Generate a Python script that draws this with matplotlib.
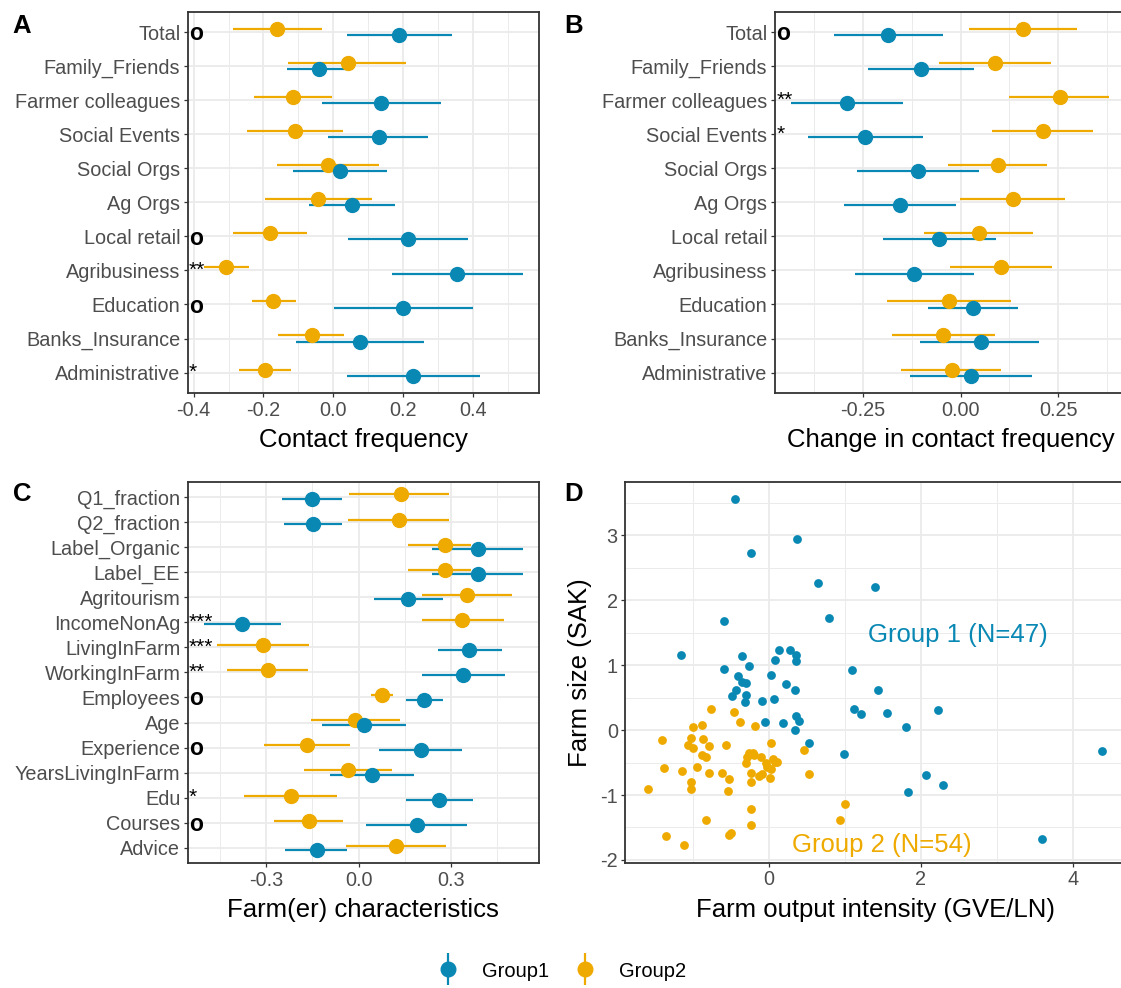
import numpy as np
import matplotlib
matplotlib.use("Agg")
import matplotlib.pyplot as plt
from matplotlib.lines import Line2D
from matplotlib.legend_handler import HandlerTuple

plt.rcParams['font.family'] = ['Liberation Sans', 'DejaVu Sans']
plt.rcParams['axes.unicode_minus'] = False

blue = '#0A88B4'
yellow = '#EFAA00'

# ---- panel A: contact frequency
a_cats = ['Total', 'Family_Friends', 'Farmer colleagues', 'Social Events', 'Social Orgs',
          'Ag Orgs', 'Local retail', 'Agribusiness', 'Education', 'Banks_Insurance', 'Administrative']
a_g1 = [0.189, -0.041, 0.138, 0.130, 0.020, 0.054, 0.213, 0.355, 0.201, 0.076, 0.229]
a_g1_lo = [0.039, -0.132, -0.031, -0.014, -0.115, -0.069, 0.041, 0.168, 0.003, -0.108, 0.039]
a_g1_hi = [0.339, 0.044, 0.309, 0.272, 0.155, 0.177, 0.385, 0.542, 0.400, 0.259, 0.420]
a_g2 = [-0.161, 0.041, -0.116, -0.109, -0.014, -0.043, -0.181, -0.307, -0.173, -0.061, -0.196]
a_g2_lo = [-0.287, -0.129, -0.227, -0.246, -0.160, -0.196, -0.287, -0.370, -0.233, -0.157, -0.269]
a_g2_hi = [-0.031, 0.207, -0.005, 0.027, 0.130, 0.110, -0.076, -0.240, -0.108, 0.032, -0.122]
a_sig = ['o', '', '', '', '', '', 'o', '**', 'o', '', '*']

# ---- panel B: change in contact frequency
b_g1 = [-0.185, -0.101, -0.291, -0.245, -0.110, -0.155, -0.055, -0.119, 0.032, 0.051, 0.027]
b_g1_lo = [-0.324, -0.237, -0.434, -0.391, -0.267, -0.300, -0.198, -0.271, -0.083, -0.103, -0.130]
b_g1_hi = [-0.046, 0.034, -0.149, -0.097, 0.046, -0.011, 0.090, 0.033, 0.147, 0.200, 0.182]
b_g2 = [0.160, 0.087, 0.254, 0.210, 0.096, 0.134, 0.047, 0.104, -0.029, -0.044, -0.023]
b_g2_lo = [0.021, -0.055, 0.125, 0.081, -0.032, -0.002, -0.093, -0.027, -0.188, -0.175, -0.153]
b_g2_hi = [0.299, 0.231, 0.381, 0.340, 0.222, 0.268, 0.185, 0.233, 0.129, 0.089, 0.103]
b_sig = ['o', '', '**', '*', '', '', '', '', '', '', '']

# ---- panel C: farm(er) characteristics
c_cats = ['Q1_fraction', 'Q2_fraction', 'Label_Organic', 'Label_EE', 'Agritourism', 'IncomeNonAg',
          'LivingInFarm', 'WorkingInFarm', 'Employees', 'Age', 'Experience', 'YearsLivingInFarm',
          'Edu', 'Courses', 'Advice']
c_g1 = [-0.150, -0.149, 0.388, 0.388, 0.162, -0.378, 0.361, 0.341, 0.214, 0.017, 0.204, 0.043, 0.261, 0.189, -0.135]
c_g1_lo = [-0.249, -0.242, 0.240, 0.240, 0.050, -0.503, 0.259, 0.207, 0.155, -0.118, 0.065, -0.094, 0.153, 0.024, -0.238]
c_g1_hi = [-0.054, -0.054, 0.534, 0.534, 0.275, -0.253, 0.466, 0.477, 0.275, 0.153, 0.337, 0.179, 0.372, 0.354, -0.036]
c_g2 = [0.138, 0.133, 0.280, 0.280, 0.352, 0.338, -0.311, -0.294, 0.076, -0.010, -0.168, -0.033, -0.220, -0.160, 0.121]
c_g2_lo = [-0.030, -0.034, 0.161, 0.161, 0.205, 0.205, -0.462, -0.427, 0.042, -0.154, -0.308, -0.177, -0.374, -0.275, -0.040]
c_g2_hi = [0.296, 0.296, 0.366, 0.366, 0.500, 0.473, -0.161, -0.164, 0.112, 0.135, -0.028, 0.110, -0.069, -0.049, 0.284]
c_sig = ['', '', '', '', '', '***', '***', '**', 'o', '', 'o', '', '*', 'o', '']

# ---- panel D: farm size vs output intensity
d_g1_x = [-0.451, 0.376, -0.235, 0.653, 1.396, 0.785, -0.592, -1.152, -0.353, 0.136,
          0.273, 0.362, 0.362, 0.080, -0.259, -0.597, 1.090, 0.033, -0.404, -0.353,
          -0.296, 0.226, -0.432, 0.338, 1.438, -0.484, -0.306, -0.315, -0.085, 0.071,
          1.114, 1.217, 1.551, 2.228, 0.357, 0.395, -0.052, 0.183, 0.343, 1.800,
          0.531, 0.992, 4.390, 2.073, 2.289, 1.828, 3.600]
d_g1_y = [3.56, 2.95, 2.73, 2.26, 2.20, 1.73, 1.68, 1.155, 1.145, 1.237,
          1.227, 1.155, 1.068, 1.083, 0.986, 0.945, 0.929, 0.847, 0.837, 0.734,
          0.719, 0.714, 0.616, 0.621, 0.611, 0.524, 0.534, 0.426, 0.441, 0.477,
          0.318, 0.241, 0.267, 0.308, 0.221, 0.144, 0.118, 0.103, -0.005, 0.046,
          -0.200, -0.364, -0.329, -0.688, -0.842, -0.960, -1.673]
d_g2_x = [-0.757, -0.456, -0.385, -0.179, -1.001, -0.874, -1.401, -1.029, -0.870, -1.062,
          -0.996, -0.785, -0.564, 0.024, 0.456, -0.879, -0.823, -0.263, -0.291, -0.197,
          -0.099, 0.052, -0.296, -0.042, 0.080, -1.377, -0.949, -1.147, -0.785, -0.616,
          -0.240, -0.094, 0.028, 0.522, -0.531, -0.127, 0.009, -1.025, -0.235, -1.589,
          -1.025, -0.536, 0.996, -0.240, -0.827, 0.935, -0.235, -1.354, -0.531, -0.494,
          -1.119, 0.102, -0.021, -0.205]
d_g2_y = [0.318, 0.277, 0.123, 0.056, 0.041, 0.082, -0.154, -0.118, -0.133, -0.236,
          -0.272, -0.246, -0.226, -0.195, -0.308, -0.385, -0.421, -0.349, -0.411, -0.385,
          -0.421, -0.441, -0.503, -0.513, -0.493, -0.580, -0.575, -0.631, -0.667, -0.667,
          -0.657, -0.678, -0.606, -0.678, -0.749, -0.708, -0.739, -0.796, -0.796, -0.909,
          -0.914, -0.934, -1.145, -1.212, -1.381, -1.391, -1.468, -1.632, -1.612, -1.581,
          -1.776, -0.488, -0.575, -0.359]

W, H = 1121, 988
fig = plt.figure(figsize=(W / 100, H / 100), dpi=100)


def add_ax(l, r, t, b):
    return fig.add_axes([l / W, 1 - b / H, (r - l) / W, (b - t) / H])


def style(ax):
    ax.set_axisbelow(True)
    for s in ax.spines.values():
        s.set_color('#333333')
        s.set_linewidth(1.3)
    ax.tick_params(which='major', length=3, width=0.9, color='#333333', labelsize=14.3,
                   labelcolor='#4D4D4D', pad=2.5)
    ax.tick_params(which='minor', length=0)
    ax.grid(which='major', color='#EBEBEB', lw=1.3)
    ax.grid(which='minor', color='#EBEBEB', lw=0.7)


def forest(ax, cats, g1, g1lo, g1hi, g2, g2lo, g2hi, sig, xlim, ticks, minor, fmt, xlabel):
    n = len(cats)
    pos = np.arange(n)[::-1].astype(float)
    d = 0.09
    ax.hlines(pos + d, g2lo, g2hi, color=yellow, lw=1.6, zorder=2)
    ax.plot(g2, pos + d, 'o', color=yellow, ms=10, zorder=3)
    ax.hlines(pos - d, g1lo, g1hi, color=blue, lw=1.6, zorder=2)
    ax.plot(g1, pos - d, 'o', color=blue, ms=10, zorder=3)
    for p, s in zip(pos, sig):
        if s == 'o':
            ax.text(xlim[0] + 0.003, p - 0.05, s, ha='left', va='center', fontsize=16.5,
                    fontweight='bold', color='black', zorder=4)
        elif s:
            ax.text(xlim[0] + 0.003, p, s, ha='left', va='center', fontsize=15, color='black', zorder=4)
    ax.set_yticks(pos)
    ax.set_yticklabels(cats)
    ax.set_ylim(-0.6, n - 0.4)
    ax.set_xlim(xlim)
    ax.set_xticks(ticks)
    ax.set_xticklabels([fmt % t for t in ticks])
    ax.set_xticks(minor, minor=True)
    ax.set_xlabel(xlabel, fontsize=18.5, color='black', labelpad=6)
    style(ax)


axA = add_ax(188, 538.6, 11.7, 393)
forest(axA, a_cats, a_g1, a_g1_lo, a_g1_hi, a_g2, a_g2_lo, a_g2_hi, a_sig,
       (-0.416, 0.588), [-0.4, -0.2, 0.0, 0.2, 0.4], [-0.3, -0.1, 0.1, 0.3, 0.5], '%.1f',
       'Contact frequency')

axB = add_ax(775, 1126, 11.7, 393)
forest(axB, a_cats, b_g1, b_g1_lo, b_g1_hi, b_g2, b_g2_lo, b_g2_hi, b_sig,
       (-0.476, 0.424), [-0.25, 0.0, 0.25], [-0.375, -0.125, 0.125, 0.375], '%.2f',
       'Change in contact frequency')

axC = add_ax(188, 538.6, 481.7, 863)
forest(axC, c_cats, c_g1, c_g1_lo, c_g1_hi, c_g2, c_g2_lo, c_g2_hi, c_sig,
       (-0.555, 0.586), [-0.3, 0.0, 0.3], [-0.45, -0.15, 0.15, 0.45], '%.1f',
       'Farm(er) characteristics')

axD = add_ax(625.4, 1125.2, 481.7, 862.7)
axD.scatter(d_g1_x, d_g1_y, s=40, color=blue, zorder=3, linewidths=0)
axD.scatter(d_g2_x, d_g2_y, s=40, color=yellow, zorder=3, linewidths=0)
axD.set_xlim(-1.888, 4.689)
axD.set_ylim(-2.043, 3.827)
axD.set_xticks([0, 2, 4])
axD.set_xticks([-1, 1, 3], minor=True)
axD.set_yticks([-2, -1, 0, 1, 2, 3])
axD.set_yticks([-1.5, -0.5, 0.5, 1.5, 2.5, 3.5], minor=True)
axD.text(1.30, 1.47, 'Group 1 (N=47)', color=blue, fontsize=18.5, ha='left', va='center')
axD.text(0.305, -1.77, 'Group 2 (N=54)', color=yellow, fontsize=18.5, ha='left', va='center')
axD.set_xlabel('Farm output intensity (GVE/LN)', fontsize=18.5, color='black', labelpad=6)
axD.set_ylabel('Farm size (SAK)', fontsize=18.5, color='black', labelpad=6)
style(axD)

# panel letters
for x, y, s in [(12, 26, 'A'), (564, 26, 'B'), (13, 494, 'C'), (564, 494, 'D')]:
    fig.text(x / W, 1 - y / H, s, fontsize=18.5, fontweight='bold', ha='left', va='center')

# legend: point with a vertical bar through it
h1 = (Line2D([], [], marker='|', ms=23, mew=1.6, color=blue, ls=''),
      Line2D([], [], marker='o', ms=10.5, color=blue, ls=''))
h2 = (Line2D([], [], marker='|', ms=23, mew=1.6, color=yellow, ls=''),
      Line2D([], [], marker='o', ms=10.5, color=yellow, ls=''))
fig.legend([h1, h2], ['Group1', 'Group2'], handler_map={tuple: HandlerTuple(ndivide=1)},
           loc='center', bbox_to_anchor=(562 / W, 1 - 971 / H), ncol=2, frameon=False,
           fontsize=14.5, handlelength=1.0, columnspacing=1.25, handletextpad=1.2)

fig.savefig('out.png', dpi=100)
